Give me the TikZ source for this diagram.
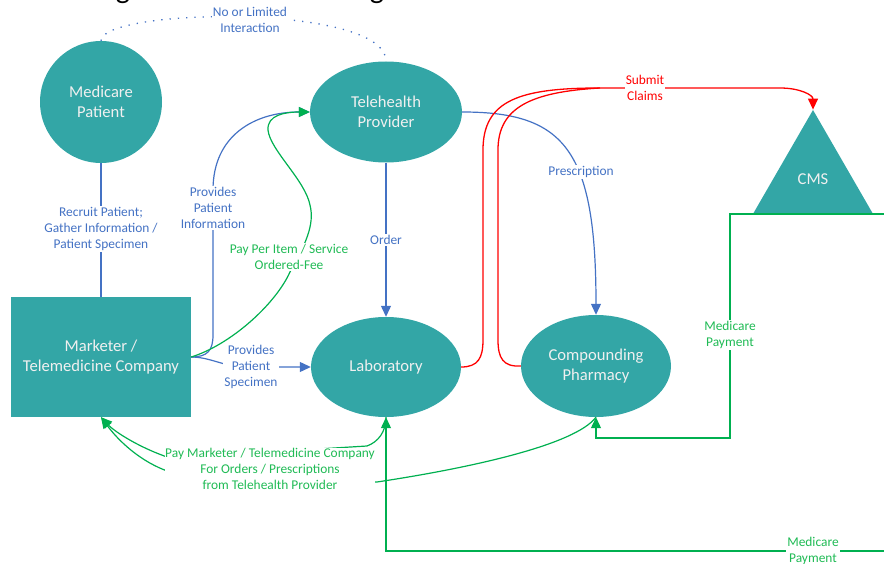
\documentclass[tikz,border=0pt]{standalone}
\usepackage{fontspec}
\setmainfont{Carlito}
\usetikzlibrary{shapes.geometric,arrows.meta}
\definecolor{partyteal}{HTML}{33A6A6}
\definecolor{infoblue}{HTML}{4472C4}
\definecolor{paygreen}{HTML}{00B050}
\definecolor{paytext}{HTML}{20BB55}
\definecolor{claimred}{HTML}{FF0000}

\begin{document}
\begin{tikzpicture}[x=1pt,y=-1pt,
  party/.style={fill=partyteal,text=white!94!black,align=center,inner sep=0pt,
    font=\fontsize{16.6}{20}\selectfont},
  flowlbl/.style={fill=white,inner sep=1pt,align=center,font=\fontsize{13.4}{16}\selectfont},
  info/.style={infoblue,line width=1.2pt},
  pay/.style={paygreen,line width=1.2pt},
  claim/.style={claimred,line width=1.3pt},
  headarr/.style={-{Triangle[length=11pt,width=10pt]}}]
\useasboundingbox (0,0) rectangle (884,564);
% Draw the cut-off title
\node[font=\fontsize{30}{30}\selectfont,anchor=base] (ttlg1) at (123,-1) {g};
\node[font=\fontsize{30}{30}\selectfont,anchor=base] (ttlg2) at (377,-1) {g};
% Draw the parties
\node[party,circle,minimum size=122pt] (patient) at (101,102) {Medicare\\Patient};
\node[party,ellipse,minimum width=152pt,minimum height=101pt] (tele) at (386,112) {Telehealth\\Provider};
\node[party,ellipse,minimum width=150pt,minimum height=100pt] (lab) at (386,367) {Laboratory};
\node[party,ellipse,minimum width=150pt,minimum height=102pt] (pharm) at (596,366) {Compounding\\Pharmacy};
\node[party,rectangle,minimum width=180pt,minimum height=120pt] (mkt) at (101,357) {Marketer /\\Telemedicine Company};
\node[party,regular polygon,regular polygon sides=3,minimum size=137.4pt] (cms) at (813,178.7) {CMS};
\coordinate (cmsedge) at (884,214);
\coordinate (botedge) at (884,551);
% Draw the information flows
\draw[info] (patient) -- (mkt);
\draw[infoblue,line width=1.3pt,dash pattern=on 1.3pt off 7pt] (patient.north) .. controls (101,8) and (386,3) .. (tele.north);
\draw[info,headarr] (tele) -- (lab);
\draw[info,headarr] (tele.east) .. controls (565,112) and (596,150) .. (pharm.north);
\draw[info,headarr] (mkt.east) .. controls (208,357) and (213,350) .. (213,335) -- (213,190)
  .. controls (213,135) and (255,112) .. (tele.west);
\draw[info,headarr] (mkt.east) .. controls (210,357) and (225,367) .. (245,367) -- (lab.west);
% Draw the fee to the telehealth provider
\draw[pay,headarr] (mkt.east) .. controls (230,345) and (275,305) .. (290,272)
  .. controls (305,245) and (315,225) .. (310,205) .. controls (305,180) and (270,150) .. (268,130)
  .. controls (267,115) and (285,112) .. (tele.west);
% Draw the claims
\draw[claim,headarr] (lab.east) .. controls (478,367) and (483,358) .. (483,340) -- (483,150)
  .. controls (483,100) and (520,88) .. (600,88) -- (780,88) .. controls (800,88) and (813,95) .. (cms.corner 1);
\draw[claim] (pharm.west) .. controls (503,367) and (498,358) .. (498,340) -- (498,150)
  .. controls (498,108) and (530,92) .. (600,88);
% Draw the medicare payments
\draw[pay,headarr] (cmsedge) -- (730,214) -- (730,438) -| (pharm.south);
\draw[pay,headarr] (botedge) -| (lab.south);
% Draw the payments to the marketer
\draw[pay,headarr] (lab.south) .. controls (386,432) and (378,442) .. (367,446) -- (170,458)
  .. controls (140,448) and (115,432) .. (mkt.south);
\draw[pay,headarr] (pharm.south) .. controls (575,445) and (470,468) .. (377,482) -- (170,472)
  .. controls (140,462) and (118,440) .. (mkt.south);
% Labels
\node[flowlbl,text=infoblue] (noint) at (250,19.5) {No or Limited\\Interaction};
\node[flowlbl,text=infoblue] (recruit) at (101,229) {Recruit Patient;\\Gather Information /\\Patient Specimen};
\node[flowlbl,text=infoblue] (provinfo) at (213,208) {Provides\\Patient\\Information};
\node[flowlbl,text=infoblue] (provspec) at (251,367) {Provides\\Patient\\Specimen};
\node[flowlbl,text=infoblue] (order) at (386,240) {Order};
\node[flowlbl,text=infoblue] (prescr) at (581,172) {Prescription};
\node[flowlbl,text=paytext] (payfee) at (289,257) {Pay Per Item / Service\\Ordered-Fee};
\node[flowlbl,text=claimred] (claims) at (645,88) {Submit\\Claims};
\node[flowlbl,text=paytext] (medpay) at (730,335) {Medicare\\Payment};
\node[flowlbl,text=paytext] (medpaybot) at (813,551) {Medicare\\Payment};
\node[flowlbl,text=paytext,inner sep=0pt] (paymkt) at (270,469) {Pay Marketer / Telemedicine Company\\For Orders / Prescriptions\\from Telehealth Provider};
\end{tikzpicture}
\end{document}
